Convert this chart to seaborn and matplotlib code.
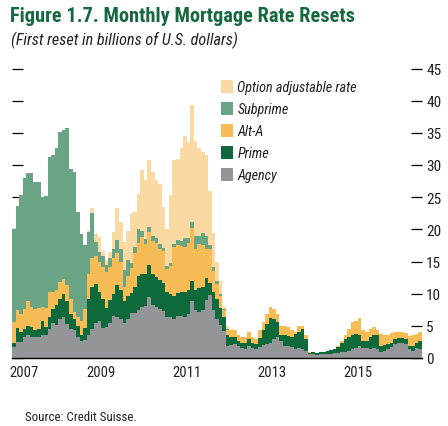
import matplotlib
matplotlib.use("Agg")
import matplotlib.pyplot as plt
from matplotlib.patches import Patch
import numpy as np
import pandas as pd
import seaborn as sns

# monthly first resets, Jun 2007 - Dec 2016, billions of U.S. dollars
months = pd.date_range("2007-06-01", "2016-12-01", freq="MS")

agency = [
    1.7, 2.5, 2.5, 3.2, 3.5, 3.2, 3.2, 3.2, 3.5, 3.5, 4.5, 5.5, 5.1, 6.1, 6.3, 5.3,
    4.5, 4.4, 3.2, 2.6, 2.8, 3.6, 4.5, 5.5, 5.8, 4.7, 4.8, 5.5, 6.5, 6.3, 6.1, 5.5,
    6.0, 7.0, 7.0, 7.5, 7.9, 8.1, 9.5, 8.3, 7.9, 7.6, 7.3, 6.3, 6.3, 6.1, 6.6, 6.6,
    6.4, 6.8, 8.8, 7.5, 7.2, 7.5, 9.0, 9.8, 7.5, 6.0, 5.2, 4.2, 1.9, 2.0, 2.2, 1.8,
    1.5, 1.4, 1.9, 1.5, 1.4, 1.7, 2.0, 2.2, 2.3, 3.0, 3.2, 2.7, 1.9, 1.9, 1.7, 1.4,
    1.5, 1.4, 1.1, 0.6, 0.6, 0.5, 0.6, 0.6, 0.6, 0.6, 0.7, 0.8, 0.9, 1.0, 1.1, 1.4,
    1.6, 1.9, 1.6, 1.5, 1.4, 1.5, 1.4, 0.9, 1.1, 1.4, 1.7, 2.2, 2.4, 2.3, 2.2, 1.4,
    1.1, 1.5, 1.4,
]
prime = [
    0.6, 2.1, 1.5, 1.3, 1.5, 1.6, 1.2, 1.3, 2.3, 1.3, 1.8, 2.1, 3.1, 3.1, 3.7, 3.6,
    2.4, 1.7, 1.8, 1.0, 1.8, 5.5, 6.5, 6.0, 4.4, 4.5, 3.0, 3.5, 3.5, 5.0, 4.4, 3.3,
    3.6, 3.1, 4.1, 5.2, 5.2, 4.9, 4.9, 4.7, 4.7, 4.6, 4.4, 3.9, 3.6, 3.6, 3.5, 3.6,
    3.8, 3.8, 3.2, 3.0, 3.7, 3.5, 3.4, 1.8, 2.8, 3.2, 2.5, 2.2, 1.6, 1.3, 1.1, 0.9,
    0.8, 1.0, 1.1, 0.8, 0.8, 1.4, 2.3, 3.1, 3.9, 3.1, 2.4, 0.8, 1.6, 1.5, 1.5, 2.3,
    2.5, 3.1, 1.9, 0.25, 0.3, 0.3, 0.3, 0.4, 0.5, 0.7, 0.7, 0.9, 1.5, 2.0, 2.1, 2.1,
    2.1, 1.6, 1.1, 1.2, 1.8, 2.0, 2.1, 1.0, 0.9, 0.8, 0.7, 0.8, 0.7, 0.8, 0.8, 0.5,
    0.8, 0.9, 1.3,
]
alt_a = [
    3.3, 2.9, 2.9, 3.1, 3.8, 3.1, 3.2, 3.2, 2.2, 2.9, 3.9, 2.7, 2.3, 2.6, 2.3, 2.4,
    2.3, 1.0, 1.3, 2.1, 3.0, 4.0, 4.5, 4.3, 4.7, 5.0, 5.6, 5.2, 5.5, 5.0, 4.4, 2.3,
    3.1, 3.9, 5.2, 5.2, 5.7, 4.7, 5.2, 5.2, 5.2, 4.7, 4.9, 3.6, 4.4, 7.5, 7.5, 7.2,
    7.0, 7.3, 8.2, 6.5, 6.8, 6.6, 4.5, 5.4, 3.3, 2.3, 2.0, 1.0, 0.9, 1.0, 1.0, 0.8,
    0.9, 0.9, 1.0, 1.0, 0.8, 1.2, 1.3, 1.6, 1.7, 1.5, 1.3, 1.5, 1.4, 1.4, 1.2, 0.3,
    0.9, 0.4, 0.5, 0.05, 0.0, 0.0, 0.0, 0.0, 0.0, 0.0, 0.0, 0.1, 0.3, 0.5, 1.3, 2.1,
    2.1, 2.7, 1.6, 1.3, 1.3, 1.3, 0.8, 1.8, 1.5, 1.4, 1.5, 1.1, 0.9, 0.9, 0.9, 1.5,
    1.6, 1.3, 1.3,
]
subprime = [
    14.5, 16.1, 18.5, 20.4, 19.9, 20.9, 19.8, 19.6, 17.0, 17.5, 21.1, 21.2, 22.1, 23.4, 23.1, 24.5,
    20.2, 21.8, 16.4, 13.6, 10.0, 6.5, 7.0, 2.2, 1.6, 1.6, 1.0, 1.3, 1.5, 2.0, 2.1, 2.6,
    2.6, 0.8, 1.0, 2.1, 1.0, 0.8, 0.8, 0.8, 0.8, 0.8, 0.5, 0.5, 0.5, 0.5, 0.8, 0.8,
    1.5, 0.8, 1.0, 2.0, 1.2, 1.8, 2.0, 0.6, 0.5, 0.5, 0.3, 0.2, 0.1, 0.1, 0.0, 0.0,
    0.0, 0.0, 0.0, 0.0, 0.0, 0.0, 0.0, 0.0, 0.0, 0.0, 0.0, 0.0, 0.0, 0.0, 0.0, 0.0,
    0.0, 0.0, 0.0, 0.0, 0.0, 0.0, 0.0, 0.0, 0.0, 0.0, 0.0, 0.0, 0.0, 0.0, 0.0, 0.0,
    0.0, 0.0, 0.0, 0.0, 0.0, 0.0, 0.0, 0.0, 0.0, 0.0, 0.0, 0.0, 0.0, 0.0, 0.0, 0.0,
    0.0, 0.0, 0.0,
]
option_arm = [
    0.0, 0.0, 0.0, 0.0, 0.0, 0.0, 0.0, 0.0, 0.0, 0.0, 0.0, 0.0, 0.0, 0.0, 0.0, 0.0,
    0.0, 0.0, 0.0, 0.0, 0.0, 0.2, 0.8, 1.2, 2.3, 0.9, 0.8, 1.0, 2.6, 5.0, 4.1, 4.3,
    4.5, 7.6, 5.4, 5.5, 9.4, 9.1, 10.3, 9.9, 9.0, 9.4, 6.4, 5.8, 10.5, 13.0, 12.6, 14.4,
    15.8, 14.8, 18.1, 14.8, 13.7, 12.6, 12.6, 8.4, 5.4, 3.0, 2.0, 0.4, 0.5, 0.1, 0.1, 0.0,
    0.0, 0.0, 0.0, 0.0, 0.0, 0.0, 0.0, 0.0, 0.0, 0.0, 0.0, 0.0, 0.0, 0.0, 0.0, 0.0,
    0.0, 0.0, 0.0, 0.0, 0.0, 0.0, 0.0, 0.0, 0.0, 0.0, 0.0, 0.0, 0.0, 0.0, 0.0, 0.0,
    0.0, 0.0, 0.0, 0.0, 0.0, 0.0, 0.0, 0.0, 0.0, 0.0, 0.0, 0.0, 0.0, 0.0, 0.0, 0.0,
    0.0, 0.0, 0.0,
]

# legend / stacking order: first entry on top, last at the bottom
series_names = ["Option adjustable rate", "Subprime", "Alt-A", "Prime", "Agency"]
series_colors = ["#FBD9A2", "#69A584", "#F8BC57", "#0E6A3A", "#939598"]
year_labels = ["2007", "2009", "2011", "2013", "2015"]

# a narrow face if one is there, otherwise Roboto
NARROW = ["Roboto Condensed", "Noto Sans Condensed", "Liberation Sans Narrow",
          "Roboto", "DejaVu Sans"]
TEXT_COLOR = "#231F20"
TITLE_COLOR = "#17683F"

wide = pd.DataFrame({
    "Option adjustable rate": option_arm,
    "Subprime": subprime,
    "Alt-A": alt_a,
    "Prime": prime,
    "Agency": agency,
})
wide["month"] = np.arange(len(months))
df = wide.melt(id_vars="month", var_name="type", value_name="value")

sns.set_style("white")
plt.rcParams["font.family"] = NARROW

fig = plt.figure(figsize=(4.48, 4.27), dpi=100)
ax = fig.add_axes([12 / 448, 68 / 427, 410 / 448, 289.5 / 427])

sns.histplot(
    data=df,
    x="month",
    weights="value",
    hue="type",
    hue_order=series_names,
    palette=series_colors,
    multiple="stack",
    discrete=True,
    element="step",
    alpha=1,
    linewidth=0,
    legend=False,
    ax=ax,
)

ax.set_xlim(-0.5, len(months) - 0.5)
ax.set_ylim(0, 45)
ax.set_xlabel("")
ax.set_ylabel("")

for side in ["left", "right", "top"]:
    ax.spines[side].set_visible(False)
ax.spines["bottom"].set_color("black")
ax.spines["bottom"].set_linewidth(1.0)

# y ticks: dashes inside on both sides, labels on the right
ax.set_yticks(np.arange(0, 46, 5))
ax.tick_params(axis="y", left=True, right=True, labelleft=False, labelright=True,
               direction="in", length=8, width=0.9, color="black", pad=3,
               labelsize=11, labelcolor=TEXT_COLOR)

# x ticks: year boundaries as marks, labels centred on the years
month_idx = np.arange(len(months))
jan_pos = month_idx[months.month == 1] - 0.5
label_pos = []
for y in year_labels:
    inside = month_idx[months.year == int(y)]
    label_pos.append(max(inside.mean(), 2.5))
ax.set_xticks(jan_pos, minor=True)
ax.set_xticks(label_pos)
ax.set_xticklabels(year_labels)
ax.tick_params(axis="x", which="minor", direction="in", length=5, width=0.9,
               color="black", bottom=True)
ax.tick_params(axis="x", which="major", length=0, pad=5, labelsize=10.5,
               labelcolor=TEXT_COLOR)

handles = [Patch(facecolor=c, edgecolor="none") for c in series_colors]
leg = fig.legend(
    handles, series_names,
    loc="upper left", bbox_to_anchor=(221 / 448, 1 - 81 / 427),
    frameon=False, borderaxespad=0, borderpad=0,
    handlelength=0.85, handleheight=1.0, handletextpad=0.3, labelspacing=0.55,
    prop={"family": NARROW, "style": "italic", "size": 10.2},
)
for t in leg.get_texts():
    t.set_color(TEXT_COLOR)

fig.text(10 / 448, 1 - 7 / 427, "Figure 1.7. Monthly Mortgage Rate Resets",
         ha="left", va="top", fontsize=14.7, fontweight="bold", color=TITLE_COLOR)
fig.text(11 / 448, 1 - 32 / 427, "(First reset in billions of U.S. dollars)",
         ha="left", va="top", fontsize=11.6, style="italic", color=TEXT_COLOR)
fig.text(25 / 448, 1 - 421 / 427, "Source: Credit Suisse.",
         ha="left", va="baseline", fontsize=9.3, color=TEXT_COLOR)

fig.savefig("out.png", dpi=100)
